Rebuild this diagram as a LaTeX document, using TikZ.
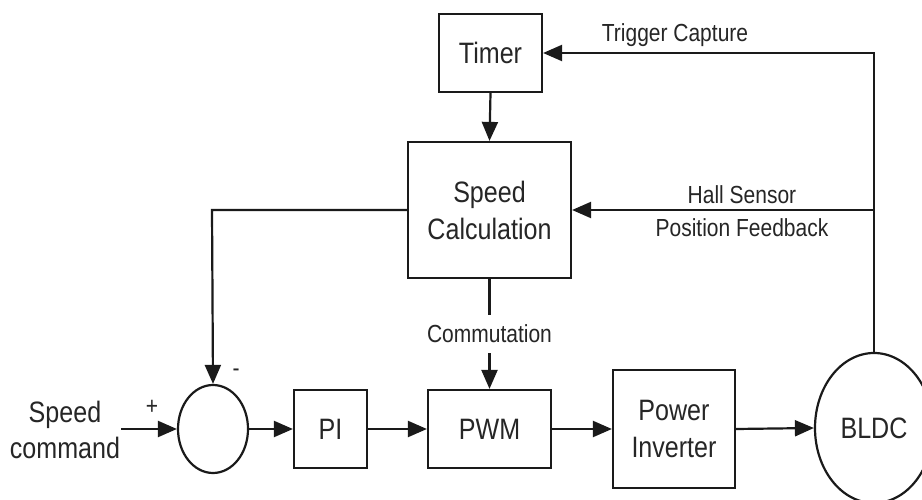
\documentclass[tikz,border=0pt]{standalone}
\usepackage{fontspec}
\setmainfont[FakeStretch=0.85]{Liberation Sans}
\usetikzlibrary{arrows.meta,shapes.geometric}
\definecolor{ink}{HTML}{1A1A1A}
\definecolor{txt}{HTML}{262626}
\begin{document}
\begin{tikzpicture}[x=1pt,y=-1pt,
  line width=2.2pt,
  box/.style={draw=ink, rectangle, inner sep=0pt, align=center, text=txt,
    font=\fontsize{29.5}{37}\selectfont},
  oval/.style={draw=ink, ellipse, inner sep=0pt, text=txt,
    font=\fontsize{29.5}{37}\selectfont},
  lbl/.style={text=txt, inner sep=0pt, align=center,
    font=\fontsize{24.7}{33}\selectfont},
  biglbl/.style={text=txt, inner sep=0pt, align=center,
    font=\fontsize{29.5}{36}\selectfont},
  conn/.style={draw=ink, -{Triangle[length=19pt,width=16pt]}},
  wire/.style={draw=ink}
]
\useasboundingbox (0,0) rectangle (922,500);
\fill[white] (0,0) rectangle (922,500);
\clip (0,0) rectangle (922,500);

% blocks
\node[box, minimum width=103pt, minimum height=78pt] (timer) at (490.5,53) {Timer};
\node[box, minimum width=163pt, minimum height=136pt] (calc) at (489.5,210) {Speed\\Calculation};
\node[oval, minimum width=70pt, minimum height=88pt] (sum) at (213,429) {};
\node[box, minimum width=73pt, minimum height=78pt] (pi) at (330.5,429) {PI};
\node[box, minimum width=123pt, minimum height=78pt] (pwm) at (489.5,429) {PWM};
\node[box, minimum width=122pt, minimum height=118pt] (inv) at (674,429) {Power\\Inverter};
\node[oval, minimum width=118pt, minimum height=150pt] (bldc) at (874,428) {BLDC};

% labels
\node[biglbl] (spd) at (65,430) {Speed\\command};
\node[lbl] (trig) at (675,35) {Trigger Capture};
\node[lbl] (hall) at (742,211) {Hall Sensor\\Position Feedback};
\node[lbl, inner ysep=9pt] (comm) at (489.5,334) {Commutation};
\node[lbl] (plus) at (152,407) {+};
\node[lbl] (minus) at (236,373) {-};

% junctions
\coordinate (jh) at (874,210);
\coordinate (jt) at (874,53);
\coordinate (jl) at (212,210);

% connectors
\draw[conn] (spd.east |- sum.west) -- (sum.west);
\draw[conn] (sum.east) -- (pi.west);
\draw[conn] (pi.east) -- (pwm.west);
\draw[conn] (pwm.east) -- (inv.west);
\draw[conn] (inv.east) -- (bldc.west);
\draw[wire] (bldc.north) -- (jh);
\draw[conn] (jh) -- (jt) -- (timer.east);
\draw[conn] (jh) -- (calc.east);
\draw[conn] (timer.south) -- (calc.north);
\draw[conn] (calc.west) -- (jl) -- (sum.north);
\draw[wire] (calc.south) -- (comm.north);
\draw[conn] (comm.south) -- (pwm.north);
\end{tikzpicture}
\end{document}
